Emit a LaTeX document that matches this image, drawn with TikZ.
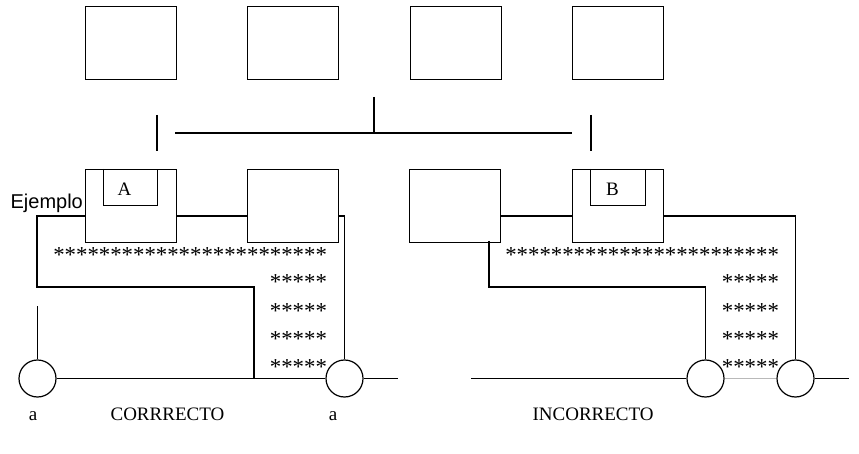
\documentclass[tikz,border=0pt]{standalone}
\usepackage{fontspec}
\setmainfont{Liberation Serif}
\newfontfamily\arialf{Liberation Sans}
\begin{document}
\begin{tikzpicture}[x=1pt,y=-1pt,line width=1.2pt,
  box/.style={draw,minimum width=91pt,minimum height=73pt,inner sep=0pt,anchor=north west},
  ring/.style={draw,circle,minimum size=37pt,inner sep=0pt},
  stars/.style={anchor=base east,inner sep=0pt,font=\fontsize{22.8}{24}\selectfont},
  lbl/.style={inner sep=0pt,anchor=base,font=\fontsize{19}{20}\selectfont},
  inner/.style={line width=0.9pt}]
\useasboundingbox (0,0) rectangle (859,454);
% top row
\node[box] (t1) at (85,6) {};
\node[box] (t2) at (247,6) {};
\node[box] (t3) at (410,6) {};
\node[box] (t4) at (572,6) {};
\coordinate (hl) at (175,133);
\coordinate (hr) at (572,133);
\coordinate (vt) at (374,97);
\draw (hl) -- (hr);
\draw (vt) -- (vt |- hl);
\coordinate (s1t) at (157,115); \coordinate (s1b) at (157,151);
\coordinate (s2t) at (591,115); \coordinate (s2b) at (591,151);
\draw (s1t) -- (s1b);
\draw (s2t) -- (s2b);
% second row
\node[box] (bA) at (85,169) {};
\node[box] (b2) at (247,169) {};
\node[box] (b3) at (409,169) {};
\node[box] (bB) at (572,169) {};
\draw[inner] (bA.north west) ++(18,0) -- ++(0,36) -- ++(54,0) -- ++(0,-36);
\draw[inner] (bB.north west) ++(18,0) -- ++(0,36) -- ++(55,0) -- ++(0,-36);
\node[lbl,anchor=center] (la) at (124.5,189.5) {A};
\node[lbl,anchor=center] (lb) at (612.5,189.5) {B};
\node[inner sep=0pt,anchor=base west,font=\arialf\fontsize{20}{22}\selectfont] (ej) at (10,209) {Ejemplo};
% circles
\node[ring] (c1) at (37.5,378.5) {};
\node[ring] (c2) at (344.5,378.5) {};
\node[ring] (c3) at (705.5,378.5) {};
\node[ring] (c4) at (795.5,378.5) {};
\coordinate (y216) at (0,216);
\coordinate (y287) at (0,287);
% left connectors
\draw (bA.west |- y216) -- (37,216) -- (37,287) -- (254,287) -- (254,378.5);
\draw (bA.east |- y216) -- (b2.west |- y216);
\draw (b2.east |- y216) -- (c2.north |- y216) -- (c2.north);
\coordinate (lv) at (37.5,306);
\draw (lv) -- (c1.north);
\draw (c1.east) -- (c2.west);
\coordinate (le) at (398,378.5);
\draw (c2.east) -- (le);
% right connectors
\draw (b3.east |- y216) -- (bB.west |- y216);
\draw (bB.east |- y216) -- (c4.north |- y216) -- (c4.north);
\draw (489,241) -- (489,287) -- (c3.north |- y287) -- (c3.north);
\coordinate (rs) at (471,378.5);
\coordinate (re) at (849,378.5);
\draw (rs) -- (c3.west);
\draw[gray!55] (c3.east) -- (c4.west);
\draw (c4.east) -- (re);
% stars
\node[stars] (sl1) at (327.5,262) {************************};
\node[stars] (sl2) at (327.5,290) {*****};
\node[stars] (sl3) at (327.5,318) {*****};
\node[stars] (sl4) at (327.5,346) {*****};
\node[stars] (sl5) at (327.5,374) {*****};
\node[stars] (sr1) at (779.5,262) {************************};
\node[stars] (sr2) at (779.5,290) {*****};
\node[stars] (sr3) at (779.5,318) {*****};
\node[stars] (sr4) at (779.5,346) {*****};
\node[stars] (sr5) at (779.5,374) {*****};
% bottom labels
\node[lbl] (a1) at (33,420) {a};
\node[lbl,anchor=base west] (cor) at (110,420) {CORRRECTO};
\node[lbl] (a2) at (333,420) {a};
\node[lbl,anchor=base west] (inc) at (532,420) {INCORRECTO};
\end{tikzpicture}
\end{document}
